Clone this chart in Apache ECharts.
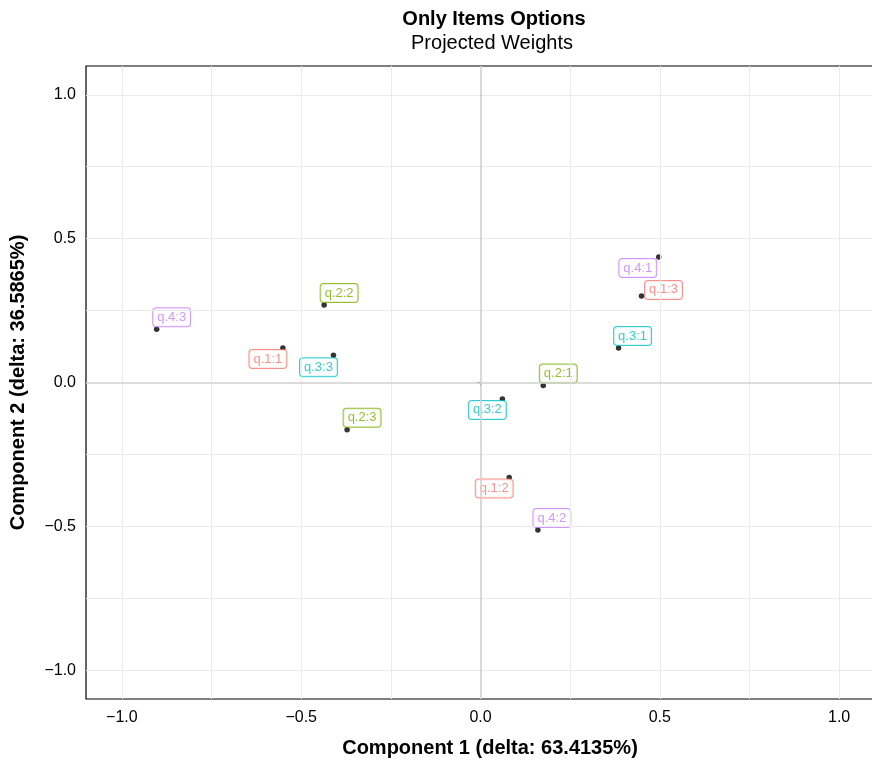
<!DOCTYPE html>
<html>
<head>
<meta charset="utf-8">
<script src="https://cdn.jsdelivr.net/npm/echarts@6/dist/echarts.min.js"></script>
<style>
  html, body { margin: 0; padding: 0; background: #fff; overflow: hidden; }
  #echarts { width: 900px; height: 763px; }
</style>
</head>
<body>
<div id="echarts"></div>
<script type="text/javascript">
// item options and their projected weights
var itemLabels = ['q.1:1', 'q.1:2', 'q.1:3', 'q.2:1', 'q.2:2', 'q.2:3',
                  'q.3:1', 'q.3:2', 'q.3:3', 'q.4:1', 'q.4:2', 'q.4:3'];
var itemQuestion = ['q.1', 'q.1', 'q.1', 'q.2', 'q.2', 'q.2',
                    'q.3', 'q.3', 'q.3', 'q.4', 'q.4', 'q.4'];
var component1 = [-0.551, 0.080, 0.449, 0.175, -0.436, -0.372,
                  0.385, 0.061, -0.410, 0.497, 0.160, -0.903];
var component2 = [0.120, -0.330, 0.301, -0.010, 0.269, -0.164,
                  0.120, -0.057, 0.095, 0.436, -0.513, 0.185];

var questions = ['q.1', 'q.2', 'q.3', 'q.4'];
var tickValues = [-1.0, -0.5, 0.0, 0.5, 1.0];
var gridValues = [-1.0, -0.75, -0.5, -0.25, 0.25, 0.5, 0.75, 1.0];

// styling only (label nudges in px, like the repelled labels)
var questionColors = { 'q.1': '#F8766D', 'q.2': '#7CAE00', 'q.3': '#00BFC4', 'q.4': '#C77CFF' };
var labelNudge = [[-15, 11], [-15, 11], [22, -6], [15, -12], [15, -12], [15, -12],
                  [14, -12], [-15, 11], [-15, 12], [-21, 11], [14, -12], [15, -12]];

var FONT = '"Liberation Sans", Arial, Helvetica, sans-serif';

function fmt(v) {
	var s = Math.abs(v).toFixed(1);
	return v < 0 ? '\u2212' + s : s;
}

var thechart = echarts.init(document.getElementById('echarts'));

var series = [];
// background grid + zero lines
var gridLines = [];
gridValues.forEach(function (v) {
	gridLines.push({ xAxis: v, lineStyle: { color: '#ebebeb', width: 1, type: 'solid' } });
	gridLines.push({ yAxis: v, lineStyle: { color: '#ebebeb', width: 1, type: 'solid' } });
});
gridLines.push({ xAxis: 0, lineStyle: { color: '#d0d0d0', width: 1.6, type: 'solid' } });
gridLines.push({ yAxis: 0, lineStyle: { color: '#d0d0d0', width: 1.6, type: 'solid' } });
series.push({
	type: 'scatter',
	data: [],
	z: 1,
	silent: true,
	markLine: {
		silent: true,
		symbol: 'none',
		label: { show: false },
		animation: false,
		data: gridLines
	}
});

questions.forEach(function (q) {
	var pts = [];
	for (var i = 0; i < itemLabels.length; i++) {
		if (itemQuestion[i] !== q) continue;
		pts.push({
			name: itemLabels[i],
			value: [component1[i], component2[i]],
			label: { offset: labelNudge[i] }
		});
	}
	series.push({
		name: q,
		type: 'scatter',
		z: 3,
		symbolSize: 5.5,
		itemStyle: { color: '#000' },
		data: pts,
		label: {
			show: true,
			position: 'inside',
			formatter: '{b}',
			fontFamily: FONT,
			fontSize: 13,
			color: questionColors[q],
			backgroundColor: '#fff',
			borderColor: questionColors[q],
			borderWidth: 1,
			borderRadius: 3,
			padding: [3, 4, 2, 4]
		}
	});
});

var theoption = {
	animation: false,
	backgroundColor: '#fff',
	title: [
		{ text: 'Only Items Options', left: 489, top: 4, textAlign: 'center',
		  textStyle: { fontFamily: FONT, fontSize: 20, fontWeight: 'bold', color: '#000' } },
		{ text: 'Projected Weights', left: 487, top: 28, textAlign: 'center',
		  textStyle: { fontFamily: FONT, fontSize: 20, fontWeight: 'normal', color: '#000' } }
	],
	grid: {
		left: 86, top: 66, width: 789, height: 634,
		show: true, borderColor: '#000', borderWidth: 1.2, backgroundColor: '#fff'
	},
	xAxis: {
		type: 'value', min: -1.1, max: 1.1,
		name: 'Component 1 (delta: 63.4135%)',
		nameLocation: 'middle', nameGap: 39,
		nameTextStyle: { fontFamily: FONT, fontSize: 20, fontWeight: 'bold', color: '#000', padding: [0, 0, 0, 19] },
		axisLine: { show: false },
		axisTick: { show: true, length: 3, customValues: tickValues, lineStyle: { color: '#333' } },
		axisLabel: { customValues: tickValues, formatter: fmt, margin: 11,
			fontFamily: FONT, fontSize: 16, color: '#000' },
		splitLine: { show: false }
	},
	yAxis: {
		type: 'value', min: -1.1, max: 1.1,
		name: 'Component 2 (delta: 36.5865%)',
		nameLocation: 'middle', nameGap: 58, nameRotate: 90,
		nameTextStyle: { fontFamily: FONT, fontSize: 20, fontWeight: 'bold', color: '#000' },
		axisLine: { show: false },
		axisTick: { show: true, length: 3, customValues: tickValues, lineStyle: { color: '#333' } },
		axisLabel: { customValues: tickValues, formatter: fmt, margin: 10,
			fontFamily: FONT, fontSize: 16, color: '#000' },
		splitLine: { show: false }
	},
	series: series
};
thechart.setOption(theoption, true);
</script>
</body>
</html>
